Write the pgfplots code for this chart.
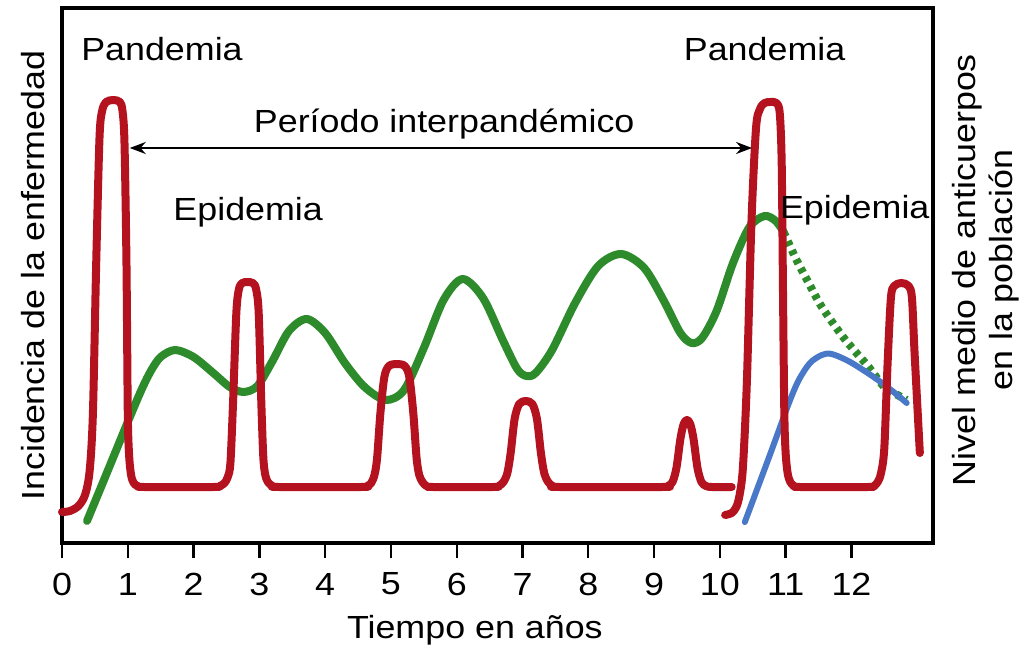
\documentclass[border=0pt]{standalone}
\usepackage{fontspec}
\setmainfont{Liberation Sans}[FakeStretch=1.12]
\usepackage{pgfplots}
\pgfplotsset{compat=1.18}
\usetikzlibrary{arrows.meta}
\definecolor{cred}{HTML}{B3121E}
\definecolor{cgreen}{HTML}{2E8B2B}
\definecolor{cblue}{HTML}{4A78C8}

\pgfplotstableread{
x y
0 31
0.12 32
0.25 37
0.35 48
0.42 72
0.47 130
0.52 280
0.57 405
0.61 432
0.67 441
0.78 443
0.88 441
0.92 432
0.95 400
0.98 280
1.0 130
1.02 88
1.05 68
1.09 60
1.15 57
1.25 56
2.3 56
2.4 57
2.47 60
2.52 66
2.56 80
2.6 140
2.65 230
2.69 254
2.74 260
2.82 261
2.9 260
2.95 254
2.99 230
3.03 140
3.06 86
3.09 68
3.13 61
3.2 57
3.3 56
4.55 56
4.64 57
4.7 60
4.75 68
4.79 85
4.84 130
4.9 166
4.97 177
5.09 179
5.21 177
5.28 166
5.34 130
5.39 85
5.43 68
5.48 61
5.54 57
5.64 56
6.55 56
6.64 57
6.71 61
6.77 70
6.82 90
6.88 124
6.95 139
7.05 142
7.15 139
7.22 124
7.28 90
7.33 70
7.39 61
7.46 57
7.56 56
9.12 56
9.21 57
9.28 61
9.34 75
9.4 104
9.45 119
9.5 123
9.55 119
9.6 104
9.66 75
9.72 61
9.79 57
9.88 56
10.18 56
}\redA

\pgfplotstableread{
x y
10.08 28
10.18 30
10.25 36
10.3 48
10.35 75
10.41 160
10.48 320
10.55 415
10.61 434
10.68 440
10.77 441
10.86 440
10.91 430
10.94 380
10.96 250
10.98 130
11.0 90
11.03 70
11.07 61
11.13 57
11.22 56
12.25 56
12.34 57
12.4 61
12.45 70
12.5 95
12.55 180
12.6 245
12.65 257
12.76 260
12.87 257
12.92 245
12.96 190
13.04 90
}\redB

\pgfplotstableread{
x y
0.38 22
0.6 57
0.8 89
1.0 121
1.2 152
1.35 172
1.5 186
1.72 193
2.0 186
2.3 170
2.55 156
2.76 151
2.97 157
3.2 182
3.45 212
3.72 224
4.0 210
4.3 180
4.6 156
4.92 143
5.2 153
5.5 195
5.8 243
6.09 264
6.4 245
6.7 203
6.92 174
7.06 167
7.2 170
7.45 193
7.8 240
8.15 277
8.5 289
8.85 275
9.15 242
9.4 210
9.57 200
9.73 205
9.95 232
10.2 280
10.45 316
10.68 327
10.85 322
10.97 311
}\greenA

\pgfplotstableread{
x y
10.97 311
11.15 285
11.35 260
11.55 236
11.85 208
12.05 192
12.25 177
12.5 156
12.7 148
12.84 143
}\greenB

\pgfplotstableread{
x y
10.38 21
10.76 88
11.05 140
11.2 163
11.37 180
11.55 188
11.7 189
11.98 181
12.36 165
12.66 150
12.84 140
}\blueA

\begin{document}
\fontsize{16bp}{18bp}\selectfont
\begin{tikzpicture}
\begin{axis}[
  scale only axis, width=435.5bp, height=267.5bp,
  xmin=0, xmax=13.24, ymin=0, ymax=535,
  axis line style={line width=2bp},
  xtick={0,...,12}, ytick=\empty,
  xtick pos=bottom, tick align=outside,
  major tick length=7.5bp,
  every tick/.style={black, line width=1.2bp},
  xticklabel style={font=\fontsize{16bp}{18bp}\selectfont, anchor=center, yshift=-13bp},
  /pgf/number format/assume math mode=true,
  clip=false,
  xlabel={Tiempo en años},
  xlabel style={at={(axis description cs:0.474,0)}, anchor=center, yshift=-43.5bp, font=\fontsize{16bp}{18bp}\selectfont},
  ylabel={Incidencia de la enfermedad},
  ylabel style={at={(axis description cs:-0.033,0.5)}, anchor=center, font=\fontsize{16bp}{18bp}\selectfont},
  every axis plot/.append style={smooth, line join=round, line cap=round},
]
\addplot[cgreen, line width=4bp] table {\greenA};
\addplot[cgreen, line width=4bp, line cap=butt, dash pattern=on 2.5bp off 2.5bp] table {\greenB};
\addplot[cblue, line width=3bp] table {\blueA};
\addplot[cred, line width=4bp] table {\redA};
\addplot[cred, line width=4bp] table {\redB};

\draw[{Stealth[length=8bp,width=6bp]}-{Stealth[length=8bp,width=6bp]}, line width=1.1bp] (axis cs:1.03,395) -- (axis cs:10.49,395);
\node[anchor=base] at (axis cs:1.52,482) {Pandemia};
\node[anchor=base] at (axis cs:10.68,482) {Pandemia};
\node[anchor=base] at (axis cs:5.81,410) {Período interpandémico};
\node[anchor=base] at (axis cs:2.83,322) {Epidemia};
\node[anchor=base] at (axis cs:12.05,324) {Epidemia};
\node[rotate=90, align=center, anchor=center, font=\fontsize{16bp}{18.5bp}\selectfont] at (axis description cs:1.061,0.51) {Nivel medio de anticuerpos\\en la población};
\end{axis}
\pgfresetboundingbox
\path ([shift={(-31bp,-54bp)}]current axis.south west) rectangle ([shift={(51.5bp,4bp)}]current axis.north east);
\end{tikzpicture}
\end{document}
